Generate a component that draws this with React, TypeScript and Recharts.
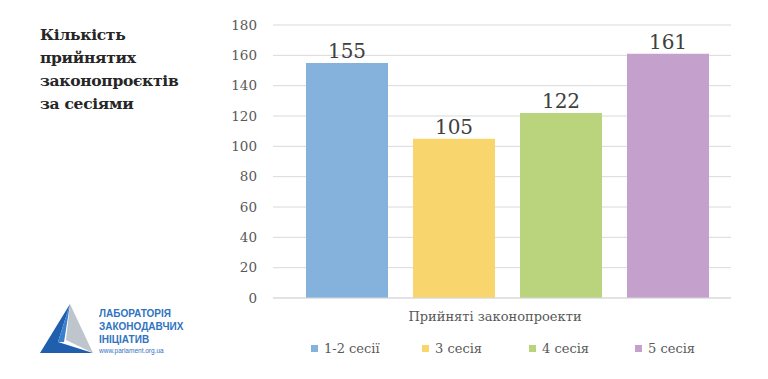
import React from "react";
import { BarChart, Bar, XAxis, YAxis, CartesianGrid, LabelList } from "recharts";

const category = "Прийняті законопроекти";
const seriesNames = ["1-2 сесії", "3 сесія", "4 сесія", "5 сесія"];
const seriesKeys = ["s1", "s2", "s3", "s4"];
const seriesValues = [155, 105, 122, 161];
const seriesColors = ["#85B1DD", "#F9D56E", "#BAD47E", "#C4A1CC"];
const yTicks = [0, 20, 40, 60, 80, 100, 120, 140, 160, 180];
const titleLines = ["Кількість", "прийнятих", "законопроєктів", "за сесіями"];
const logoLines = ["ЛАБОРАТОРІЯ", "ЗАКОНОДАВЧИХ", "ІНІЦІАТИВ"];

const row: Record<string, any> = { name: category };
seriesKeys.forEach((k, i) => (row[k] = seriesValues[i]));
const data = [row];

const SERIF = "'DejaVu Serif', serif";

const CatTick = (props: any) => {
  const { x, y, payload } = props;
  return (
    <text x={x - 12} y={y + 15} textAnchor="middle" fontFamily={SERIF} fontSize={13} fill="#595959">
      {payload.value}
    </text>
  );
};

export default function App() {
  return (
    <div style={{ position: "absolute", left: 0, top: 0, width: 768, height: 379, background: "#fff", overflow: "hidden" }}>
      <div style={{ position: "absolute", left: 40, top: 23, fontFamily: SERIF, fontWeight: "bold", fontSize: 15.5, letterSpacing: -0.3, lineHeight: "23px", color: "#262626" }}>
        {titleLines.map((t) => (
          <div key={t}>{t}</div>
        ))}
      </div>
      <BarChart
        width={768}
        height={379}
        data={data}
        margin={{ top: 25, right: 37, left: 233, bottom: 46 }}
        barSize={82}
        barGap={25}
      >
        <CartesianGrid vertical={false} stroke="#d9d9d9" strokeWidth={1} />
        <XAxis
          dataKey="name"
          axisLine={{ stroke: "#d9d9d9" }}
          tickLine={false}
          tick={<CatTick />}
          height={35}
          padding={{ left: 10, right: 0 }}
        />
        <YAxis
          domain={[0, 180]}
          ticks={yTicks}
          width={40}
          axisLine={false}
          tickLine={false}
          tick={{ fontFamily: SERIF, fontSize: 13.5, fill: "#595959" }}
          tickMargin={10}
        />
        {seriesKeys.map((k, i) => (
          <Bar key={k} dataKey={k} name={seriesNames[i]} fill={seriesColors[i]} isAnimationActive={false}>
            <LabelList dataKey={k} position="top" offset={5} style={{ fontFamily: SERIF, fontSize: 20, fill: "#404040" }} />
          </Bar>
        ))}
      </BarChart>
      <div style={{ position: "absolute", top: 341, left: 0, width: 768, height: 20 }}>
        {seriesNames.map((n, i) => (
          <div
            key={n}
            style={{ position: "absolute", left: [311, 422, 529, 635][i], top: 0, display: "flex", alignItems: "center", fontFamily: SERIF, fontSize: 13, color: "#595959", whiteSpace: "nowrap" }}
          >
            <span style={{ display: "inline-block", width: 7, height: 7, background: seriesColors[i], marginRight: 6 }} />
            {n}
          </div>
        ))}
      </div>
      <svg style={{ position: "absolute", left: 0, top: 290 }} width={200} height={80}>
        <polygon points="70,14 40,63 93,63 58,52" fill="#1f5fae" />
        <polygon points="70,14 66,50 93,63" fill="#bfc5cc" />
        <polygon points="70,14 64,52 58,52" fill="#3a7fcc" />
        {logoLines.map((t, i) => (
          <text key={t} x={99} y={27 + i * 13} fontFamily="'Liberation Sans', Arial, sans-serif" fontWeight="bold" fontSize={10} fill="#2f74c0">
            {t}
          </text>
        ))}
        <text x={99} y={63} fontFamily="'Liberation Sans', Arial, sans-serif" fontSize={6.5} fill="#2f74c0">
          www.parlament.org.ua
        </text>
      </svg>
    </div>
  );
}
